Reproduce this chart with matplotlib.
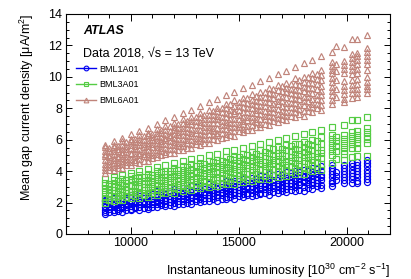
import numpy as np
import matplotlib
matplotlib.use('Agg')
import matplotlib.pyplot as plt
from matplotlib.lines import Line2D
from matplotlib.ticker import MultipleLocator

plt.rcParams['font.family'] = ['Liberation Sans', 'DejaVu Sans']
plt.rcParams['mathtext.fontset'] = 'custom'
plt.rcParams['mathtext.rm'] = 'Liberation Sans'
plt.rcParams['mathtext.it'] = 'Liberation Sans:italic'

# luminosity grids of the continuous part of 2018
lumi = [8800, 9200, 9600, 10000, 10400, 10800, 11200, 11600, 12000, 12400,
        12800, 13200, 13600, 14000, 14400, 14800, 15200, 15600, 16000, 16400,
        16800, 17200, 17600, 18000, 18400, 18800]
lumi_mid = [9000, 9400, 9800, 10200, 10600, 11000, 11400, 11800, 12200, 12600,
            13000, 13400, 13800, 14200, 14600, 15000, 15400, 15800, 16200, 16600,
            17000, 17400, 17800, 18200, 18600]

# high luminosity fills (isolated columns)
lumi_late = [19320, 19490, 19860, 20220, 20480, 20920]

labels = ['BML1A01', 'BML3A01', 'BML6A01']
colors = ['#0000f0', '#55cc44', '#c0847a']
markers = ['o', 's', '^']

bml1 = [
    [1.30, 1.40, 1.41, 1.54, 1.55, 1.59, 1.71, 1.81, 1.79, 1.90, 1.90, 2.05, 2.08, 2.13, 2.25, 2.24, 2.36, 2.40, 2.52, 2.51, 2.61, 2.65, 2.76, 2.75, 2.89, 2.93],
    [1.41, 1.54, 1.64, 1.62, 1.73, 1.74, 1.89, 1.93, 1.97, 2.10, 2.09, 2.22, 2.26, 2.38, 2.37, 2.48, 2.52, 2.64, 2.62, 2.76, 2.81, 2.88, 2.98, 2.99, 3.12, 3.14],
    [1.55, 1.70, 1.74, 1.80, 1.93, 1.92, 2.05, 2.09, 2.23, 2.22, 2.33, 2.37, 2.49, 2.49, 2.63, 2.68, 2.75, 2.85, 2.88, 3.01, 3.03, 3.07, 3.20, 3.31, 3.30, 3.41],
    [1.71, 1.84, 1.89, 2.02, 2.02, 2.13, 2.17, 2.30, 2.29, 2.44, 2.49, 2.56, 2.67, 2.69, 2.83, 2.85, 2.89, 3.03, 3.13, 3.13, 3.24, 3.25, 3.41, 3.45, 3.51, 3.64],
    [1.91, 1.96, 2.08, 2.08, 2.22, 2.28, 2.36, 2.46, 2.49, 2.62, 2.65, 2.70, 2.83, 2.94, 2.93, 3.05, 3.07, 3.22, 3.27, 3.32, 3.46, 3.46, 3.59, 3.64, 3.77, 3.77],
    [2.09, 2.12, 2.17, 2.30, 2.41, 2.41, 2.53, 2.55, 2.70, 2.75, 2.81, 2.95, 2.95, 3.08, 3.13, 3.27, 3.27, 3.39, 3.43, 3.56, 3.56, 3.71, 3.77, 3.84, 3.95, 3.98],
    [2.17, 2.29, 2.31, 2.48, 2.53, 2.59, 2.73, 2.73, 2.88, 2.93, 3.07, 3.07, 3.19, 3.25, 3.38, 3.38, 3.53, 3.59, 3.68, 3.79, 3.82, 3.96, 3.99, 4.05, 4.19, 4.30],
]
bml1_mid = [
    [1.42, 1.44, 1.54, 1.64, 1.65, 1.73, 1.83, 1.83, 1.94, 1.99, 2.12, 2.11, 2.22, 2.24, 2.33, 2.44, 2.46, 2.48, 2.63, 2.68, 2.71, 2.82, 2.83, 2.93, 3.03],
    [1.58, 1.58, 1.70, 1.75, 1.88, 1.88, 2.00, 2.02, 2.12, 2.23, 2.25, 2.28, 2.43, 2.48, 2.52, 2.63, 2.64, 2.75, 2.85, 2.92, 2.94, 3.05, 3.15, 3.16, 3.25],
    [1.72, 1.74, 1.85, 1.96, 1.99, 2.02, 2.18, 2.23, 2.27, 2.39, 2.40, 2.52, 2.62, 2.69, 2.71, 2.82, 2.93, 2.94, 3.04, 3.14, 3.14, 3.27, 3.32, 3.46, 3.46],
    [1.88, 1.94, 1.98, 2.10, 2.12, 2.23, 2.34, 2.40, 2.43, 2.55, 2.65, 2.67, 2.77, 2.87, 2.88, 3.01, 3.06, 3.20, 3.20, 3.32, 3.35, 3.45, 3.57, 3.60, 3.63],
    [2.04, 2.06, 2.16, 2.27, 2.27, 2.40, 2.46, 2.60, 2.61, 2.73, 2.75, 2.86, 2.98, 3.01, 3.05, 3.21, 3.26, 3.31, 3.43, 3.45, 3.57, 3.68, 3.74, 3.77, 3.89],
    [2.14, 2.28, 2.29, 2.41, 2.45, 2.56, 2.68, 2.71, 2.75, 2.91, 2.97, 3.02, 3.15, 3.17, 3.29, 3.40, 3.47, 3.50, 3.62, 3.73, 3.76, 3.86, 3.97, 3.98, 4.11],
]
bml3 = [
    [2.00, 2.11, 2.14, 2.29, 2.32, 2.37, 2.51, 2.62, 2.63, 2.75, 2.77, 2.93, 2.98, 3.05, 3.19, 3.19, 3.33, 3.38, 3.53, 3.53, 3.65, 3.70, 3.83, 3.84, 3.99, 4.05],
    [2.21, 2.36, 2.48, 2.48, 2.61, 2.64, 2.81, 2.87, 2.93, 3.08, 3.09, 3.24, 3.30, 3.44, 3.45, 3.58, 3.64, 3.78, 3.78, 3.94, 4.01, 4.10, 4.22, 4.25, 4.40, 4.44],
    [2.45, 2.62, 2.68, 2.76, 2.91, 2.92, 3.07, 3.13, 3.29, 3.30, 3.43, 3.49, 3.63, 3.65, 3.81, 3.88, 3.97, 4.09, 4.14, 4.29, 4.33, 4.39, 4.54, 4.67, 4.68, 4.81],
    [2.66, 2.82, 2.88, 3.04, 3.05, 3.19, 3.26, 3.40, 3.42, 3.58, 3.66, 3.76, 3.88, 3.93, 4.08, 4.13, 4.20, 4.35, 4.48, 4.49, 4.63, 4.67, 4.84, 4.91, 4.98, 5.14],
    [2.91, 2.98, 3.13, 3.15, 3.32, 3.40, 3.50, 3.63, 3.68, 3.84, 3.89, 3.96, 4.12, 4.25, 4.27, 4.41, 4.45, 4.63, 4.70, 4.78, 4.94, 4.96, 5.12, 5.19, 5.35, 5.37],
    [3.14, 3.20, 3.27, 3.44, 3.57, 3.60, 3.75, 3.79, 3.98, 4.05, 4.14, 4.31, 4.33, 4.50, 4.57, 4.74, 4.77, 4.91, 4.99, 5.14, 5.17, 5.35, 5.43, 5.54, 5.67, 5.73],
    [3.27, 3.42, 3.47, 3.67, 3.75, 3.84, 4.01, 4.04, 4.22, 4.30, 4.47, 4.50, 4.65, 4.74, 4.90, 4.93, 5.11, 5.20, 5.32, 5.46, 5.52, 5.69, 5.75, 5.84, 6.01, 6.15],
    [3.50, 3.63, 3.74, 3.88, 4.00, 4.11, 4.26, 4.37, 4.49, 4.63, 4.75, 4.86, 5.01, 5.12, 5.26, 5.36, 5.50, 5.63, 5.74, 5.87, 6.01, 6.12, 6.24, 6.38, 6.50, 6.62],
]
bml3_mid = [
    [2.17, 2.21, 2.33, 2.45, 2.47, 2.58, 2.69, 2.71, 2.84, 2.91, 3.05, 3.07, 3.20, 3.23, 3.35, 3.47, 3.51, 3.55, 3.72, 3.78, 3.84, 3.96, 3.99, 4.11, 4.23],
    [2.43, 2.45, 2.59, 2.66, 2.81, 2.83, 2.97, 3.01, 3.13, 3.26, 3.30, 3.35, 3.52, 3.59, 3.65, 3.78, 3.81, 3.94, 4.06, 4.15, 4.19, 4.32, 4.44, 4.47, 4.58],
    [2.64, 2.69, 2.81, 2.95, 2.99, 3.05, 3.23, 3.30, 3.37, 3.50, 3.54, 3.67, 3.80, 3.89, 3.93, 4.07, 4.19, 4.23, 4.34, 4.47, 4.50, 4.64, 4.72, 4.87, 4.90],
    [2.85, 2.93, 3.00, 3.14, 3.18, 3.32, 3.45, 3.54, 3.59, 3.73, 3.86, 3.90, 4.02, 4.15, 4.18, 4.33, 4.41, 4.57, 4.60, 4.74, 4.79, 4.92, 5.06, 5.11, 5.17],
    [3.06, 3.11, 3.23, 3.37, 3.40, 3.56, 3.64, 3.81, 3.84, 3.99, 4.04, 4.18, 4.33, 4.38, 4.45, 4.63, 4.72, 4.79, 4.94, 4.98, 5.13, 5.26, 5.36, 5.41, 5.56],
    [3.21, 3.38, 3.42, 3.58, 3.64, 3.78, 3.93, 3.99, 4.06, 4.26, 4.35, 4.43, 4.58, 4.63, 4.78, 4.93, 5.03, 5.09, 5.24, 5.38, 5.43, 5.57, 5.71, 5.75, 5.91],
]
bml6 = [
    [3.90, 4.09, 4.20, 4.42, 4.53, 4.66, 4.88, 5.07, 5.15, 5.35, 5.45, 5.69, 5.82, 5.96, 6.18, 6.26, 6.48, 6.61, 6.83, 6.91, 7.11, 7.24, 7.45, 7.53, 7.76, 7.90],
    [4.06, 4.28, 4.48, 4.56, 4.77, 4.87, 5.11, 5.25, 5.39, 5.62, 5.70, 5.92, 6.06, 6.28, 6.37, 6.57, 6.70, 6.92, 7.00, 7.24, 7.38, 7.54, 7.74, 7.85, 8.08, 8.19],
    [4.25, 4.50, 4.64, 4.78, 5.01, 5.10, 5.33, 5.47, 5.69, 5.78, 5.99, 6.13, 6.35, 6.43, 6.67, 6.82, 6.99, 7.19, 7.30, 7.53, 7.65, 7.79, 8.02, 8.21, 8.30, 8.51],
    [4.46, 4.69, 4.83, 5.07, 5.16, 5.37, 5.51, 5.73, 5.83, 6.07, 6.22, 6.39, 6.59, 6.72, 6.95, 7.07, 7.21, 7.44, 7.65, 7.74, 7.95, 8.06, 8.31, 8.46, 8.61, 8.84],
    [4.71, 4.86, 5.08, 5.18, 5.42, 5.58, 5.76, 5.96, 6.09, 6.32, 6.45, 6.60, 6.83, 7.04, 7.13, 7.35, 7.47, 7.72, 7.87, 8.02, 8.26, 8.36, 8.59, 8.74, 8.97, 9.07],
    [4.94, 5.07, 5.22, 5.47, 5.68, 5.78, 6.00, 6.12, 6.39, 6.54, 6.70, 6.94, 7.04, 7.29, 7.44, 7.68, 7.78, 8.00, 8.16, 8.39, 8.49, 8.74, 8.90, 9.09, 9.30, 9.43],
    [5.07, 5.30, 5.42, 5.69, 5.84, 6.01, 6.26, 6.36, 6.61, 6.76, 7.01, 7.12, 7.34, 7.50, 7.73, 7.84, 8.10, 8.26, 8.45, 8.66, 8.80, 9.05, 9.18, 9.34, 9.58, 9.80],
    [5.28, 5.53, 5.64, 5.90, 6.06, 6.31, 6.42, 6.65, 6.82, 7.06, 7.17, 7.43, 7.60, 7.80, 8.02, 8.16, 8.41, 8.55, 8.72, 8.97, 9.19, 9.30, 9.53, 9.67, 9.94, 10.10],
    [5.55, 5.67, 5.91, 6.07, 6.32, 6.44, 6.71, 6.89, 7.08, 7.31, 7.46, 7.72, 7.87, 8.03, 8.29, 8.52, 8.64, 8.88, 9.01, 9.29, 9.46, 9.64, 9.90, 10.01, 10.27, 10.44],
    [5.65, 5.89, 6.09, 6.34, 6.55, 6.77, 7.02, 7.23, 7.45, 7.69, 7.91, 8.13, 8.37, 8.59, 8.82, 9.03, 9.27, 9.50, 9.71, 9.94, 10.18, 10.40, 10.61, 10.86, 11.07, 11.30],
]
bml6_mid = [
    [4.05, 4.17, 4.37, 4.56, 4.67, 4.85, 5.05, 5.14, 5.36, 5.50, 5.73, 5.82, 6.03, 6.14, 6.33, 6.54, 6.65, 6.78, 7.02, 7.17, 7.30, 7.51, 7.61, 7.82, 8.01],
    [4.26, 4.36, 4.58, 4.73, 4.96, 5.05, 5.26, 5.38, 5.58, 5.79, 5.91, 6.04, 6.29, 6.43, 6.57, 6.78, 6.89, 7.10, 7.30, 7.46, 7.58, 7.79, 7.98, 8.09, 8.28],
    [4.45, 4.57, 4.78, 4.99, 5.11, 5.25, 5.50, 5.65, 5.79, 6.01, 6.12, 6.33, 6.54, 6.70, 6.82, 7.03, 7.24, 7.35, 7.54, 7.75, 7.85, 8.07, 8.22, 8.46, 8.56],
    [4.66, 4.82, 4.96, 5.18, 5.30, 5.52, 5.72, 5.89, 6.02, 6.23, 6.44, 6.56, 6.76, 6.96, 7.07, 7.30, 7.45, 7.69, 7.80, 8.02, 8.14, 8.35, 8.57, 8.69, 8.83],
    [4.87, 4.99, 5.19, 5.41, 5.52, 5.75, 5.91, 6.15, 6.27, 6.49, 6.62, 6.83, 7.06, 7.19, 7.33, 7.59, 7.75, 7.91, 8.13, 8.25, 8.47, 8.68, 8.86, 8.99, 9.21],
    [5.02, 5.27, 5.38, 5.61, 5.75, 5.97, 6.19, 6.33, 6.48, 6.74, 6.91, 7.07, 7.30, 7.42, 7.65, 7.87, 8.04, 8.18, 8.41, 8.63, 8.75, 8.96, 9.18, 9.29, 9.53],
    [5.27, 5.41, 5.57, 5.84, 6.01, 6.17, 6.41, 6.54, 6.77, 6.99, 7.18, 7.32, 7.55, 7.77, 7.91, 8.12, 8.34, 8.46, 8.71, 8.88, 9.13, 9.25, 9.49, 9.63, 9.85],
    [5.45, 5.59, 5.83, 6.06, 6.25, 6.39, 6.63, 6.86, 7.00, 7.22, 7.45, 7.58, 7.83, 8.00, 8.26, 8.39, 8.63, 8.78, 9.01, 9.25, 9.40, 9.56, 9.83, 10.01, 10.18],
]

# values of the late, high luminosity columns (one list per column)
bml1_late = [
    [4.39, 4.20, 4.00, 3.80, 3.60, 3.40, 3.25, 3.06],
    [3.95, 3.70, 3.45],
    [4.39, 4.20, 4.00, 3.80, 3.60, 3.45, 3.23],
    [4.50, 4.30, 4.10, 3.90, 3.70, 3.50, 3.23],
    [4.60, 4.40, 4.20, 4.00, 3.80, 3.60, 3.40, 3.23],
    [4.71, 4.50, 4.30, 4.10, 3.90, 3.70, 3.50, 3.30],
]
bml3_late = [
    [6.83, 6.30, 6.05, 5.80, 5.55, 5.30, 5.05, 4.55],
    [6.20, 5.90, 5.60, 5.30, 4.75],
    [6.94, 6.30, 6.05, 5.80, 5.55, 5.30, 5.10, 4.71],
    [7.26, 6.50, 6.25, 6.00, 5.75, 5.45, 4.92],
    [7.26, 6.55, 6.30, 6.05, 5.80, 5.50, 4.95],
    [7.47, 6.75, 6.50, 6.25, 6.05, 5.80, 4.95],
]
bml6_late = [
    [11.60, 10.95, 10.70, 10.45, 10.25, 9.90, 9.65, 9.35, 9.10, 8.85, 8.55, 8.30],
    [11.97, 10.85, 10.40, 9.80, 9.20, 8.70],
    [11.92, 11.00, 10.75, 10.50, 10.25, 9.75, 9.45, 9.15, 8.90, 8.60, 8.40],
    [12.39, 11.45, 11.20, 10.95, 10.70, 10.45, 10.20, 9.80, 9.50, 9.20, 8.95, 8.65],
    [12.39, 11.55, 11.30, 11.05, 10.80, 10.50, 10.25, 9.85, 9.55, 9.25, 8.95, 8.70],
    [12.67, 11.85, 11.60, 11.35, 11.10, 10.80, 10.45, 10.00, 9.70, 9.45, 9.20, 8.95],
]


def main():
    fig = plt.figure(figsize=(4.11, 2.79), dpi=100)
    ax = fig.add_axes([66/411, 1-234/279, 324/411, 220/279])

    series = [(bml1, bml1_mid, bml1_late), (bml3, bml3_mid, bml3_late),
              (bml6, bml6_mid, bml6_late)]
    sizes = [4.4, 4.4, 5.0]
    handles = []
    for k, (tracks, mid, late) in enumerate(series):
        style = dict(linestyle='none', marker=markers[k], ms=sizes[k],
                     mfc='none', mec=colors[k], mew=0.85)
        for tr in tracks:
            ax.plot(lumi, tr, **style)
        for tr in mid:
            ax.plot(lumi_mid, tr, **style)
        for xl, col in zip(lumi_late, late):
            ax.plot([xl]*len(col), col, **style)
        handles.append(Line2D([], [], color=colors[k], lw=1.0, marker=markers[k],
                              ms=3.4, mfc='none', mec=colors[k], mew=0.8))

    ax.set_xlim(7000, 22000)
    ax.set_ylim(0, 14)
    ax.xaxis.set_major_locator(MultipleLocator(5000))
    ax.xaxis.set_minor_locator(MultipleLocator(1000))
    ax.yaxis.set_major_locator(MultipleLocator(2))
    ax.yaxis.set_minor_locator(MultipleLocator(0.5))
    ax.tick_params(which='both', direction='in', top=True, right=True,
                   labelsize=9, width=0.7, pad=2.5)
    ax.tick_params(axis='x', which='major', length=5.0)
    ax.tick_params(axis='x', which='minor', length=2.6)
    ax.tick_params(axis='y', which='major', length=4.0)
    ax.tick_params(axis='y', which='minor', length=2.2)
    for s in ax.spines.values():
        s.set_linewidth(0.8)

    ax.set_xlabel('Instantaneous luminosity [10$^{30}$ cm$^{-2}$ s$^{-1}$]',
                  fontsize=9, loc='right', labelpad=9)
    ax.set_ylabel('Mean gap current density [\u03bcA/m$^{2}$]',
                  fontsize=9, loc='top', labelpad=9)

    ax.text(0.053, 0.925, 'ATLAS', transform=ax.transAxes, fontsize=9,
            fontweight='bold', fontstyle='italic', va='center')
    ax.text(0.053, 0.82, 'Data 2018, \u221as = 13 TeV', transform=ax.transAxes,
            fontsize=9, va='center')

    ax.legend(handles, labels, loc='upper left', bbox_to_anchor=(0.03, 0.77),
              frameon=False, fontsize=6.5, handlelength=2.2, handletextpad=0.4,
              labelspacing=0.75, borderaxespad=0, borderpad=0)

    plt.savefig('out.png', dpi=100)
    plt.close()


if __name__ == "__main__":
    main()
